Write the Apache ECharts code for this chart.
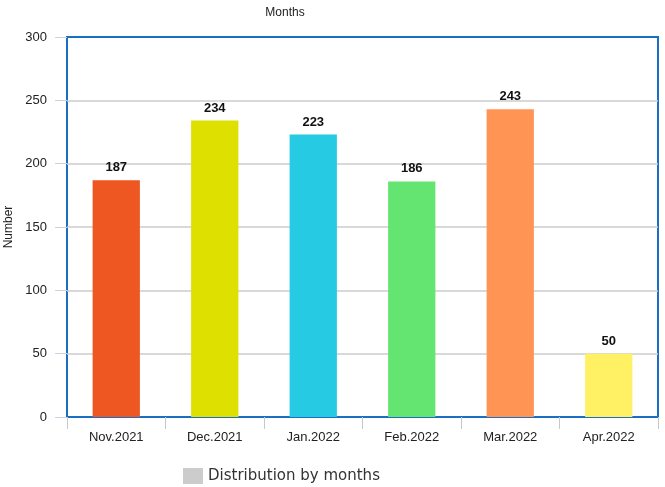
<!DOCTYPE html>
<html><head><meta charset="utf-8">
<script src="https://cdn.jsdelivr.net/npm/echarts@6/dist/echarts.min.js"></script>
<style>html,body{margin:0;padding:0;background:#fff}#c{width:665px;height:487px}</style>
</head><body><div id="c"></div>
<script>
var categories = ['Nov.2021','Dec.2021','Jan.2022','Feb.2022','Mar.2022','Apr.2022'];
var values = [187, 234, 223, 186, 243, 50];
var colors = ['#ee5622','#dee000','#26cae3','#64e470','#ff9455','#fff064'];
var yTicks = [0, 50, 100, 150, 200, 250, 300];
var seriesName = 'Distribution by months';

var chart = echarts.init(document.getElementById('c'));
chart.setOption({
  animation: false,
  title: {text: 'Months', left: 280, top: 2, textAlign: 'center',
    textStyle: {fontFamily: 'Liberation Sans', fontSize: 12, fontWeight: 'normal', color: '#222'}},
  grid: {left: 67, right: 7, top: 37, bottom: 70, outerBoundsMode: 'none', containLabel: false,
    show: true, borderColor: '#1a6fc4', borderWidth: 2, backgroundColor: 'transparent'},
  legend: {left: 178, top: 463, itemWidth: 20, itemHeight: 16, itemGap: 8,
    icon: 'rect',
    textStyle: {fontFamily: 'DejaVu Sans', fontSize: 15, color: '#333'},
    data: [{name: seriesName, itemStyle: {color: '#cccccc'}}]},
  xAxis: {type: 'category', data: categories,
    axisLine: {show: false},
    axisTick: {show: true, length: 12, lineStyle: {color: '#c8c8c8'}},
    axisLabel: {fontFamily: 'Liberation Sans', fontSize: 13, color: '#222', margin: 14}},
  yAxis: {type: 'value', min: yTicks[0], max: yTicks[yTicks.length-1], interval: 50,
    name: 'Number', nameLocation: 'middle', nameGap: 52, nameRotate: 90,
    nameTextStyle: {fontFamily: 'Liberation Sans', fontSize: 12, color: '#222'},
    axisLine: {show: false},
    axisTick: {show: true, length: 12, lineStyle: {color: '#c8d4e0'}},
    axisLabel: {fontFamily: 'Liberation Sans', fontSize: 13, color: '#222', margin: 20},
    splitLine: {showMinLine: false, showMaxLine: false, lineStyle: {color: '#cccccc', width: 1.5}}},
  series: [{type: 'bar', name: seriesName, barWidth: '48%',
    data: values.map(function(v, i){ return {value: v, itemStyle: {color: colors[i]}}; }),
    label: {show: true, position: 'top', distance: 6, fontFamily: 'Liberation Sans', fontWeight: 'bold', fontSize: 13, color: '#111'}}]
});
</script></body></html>
